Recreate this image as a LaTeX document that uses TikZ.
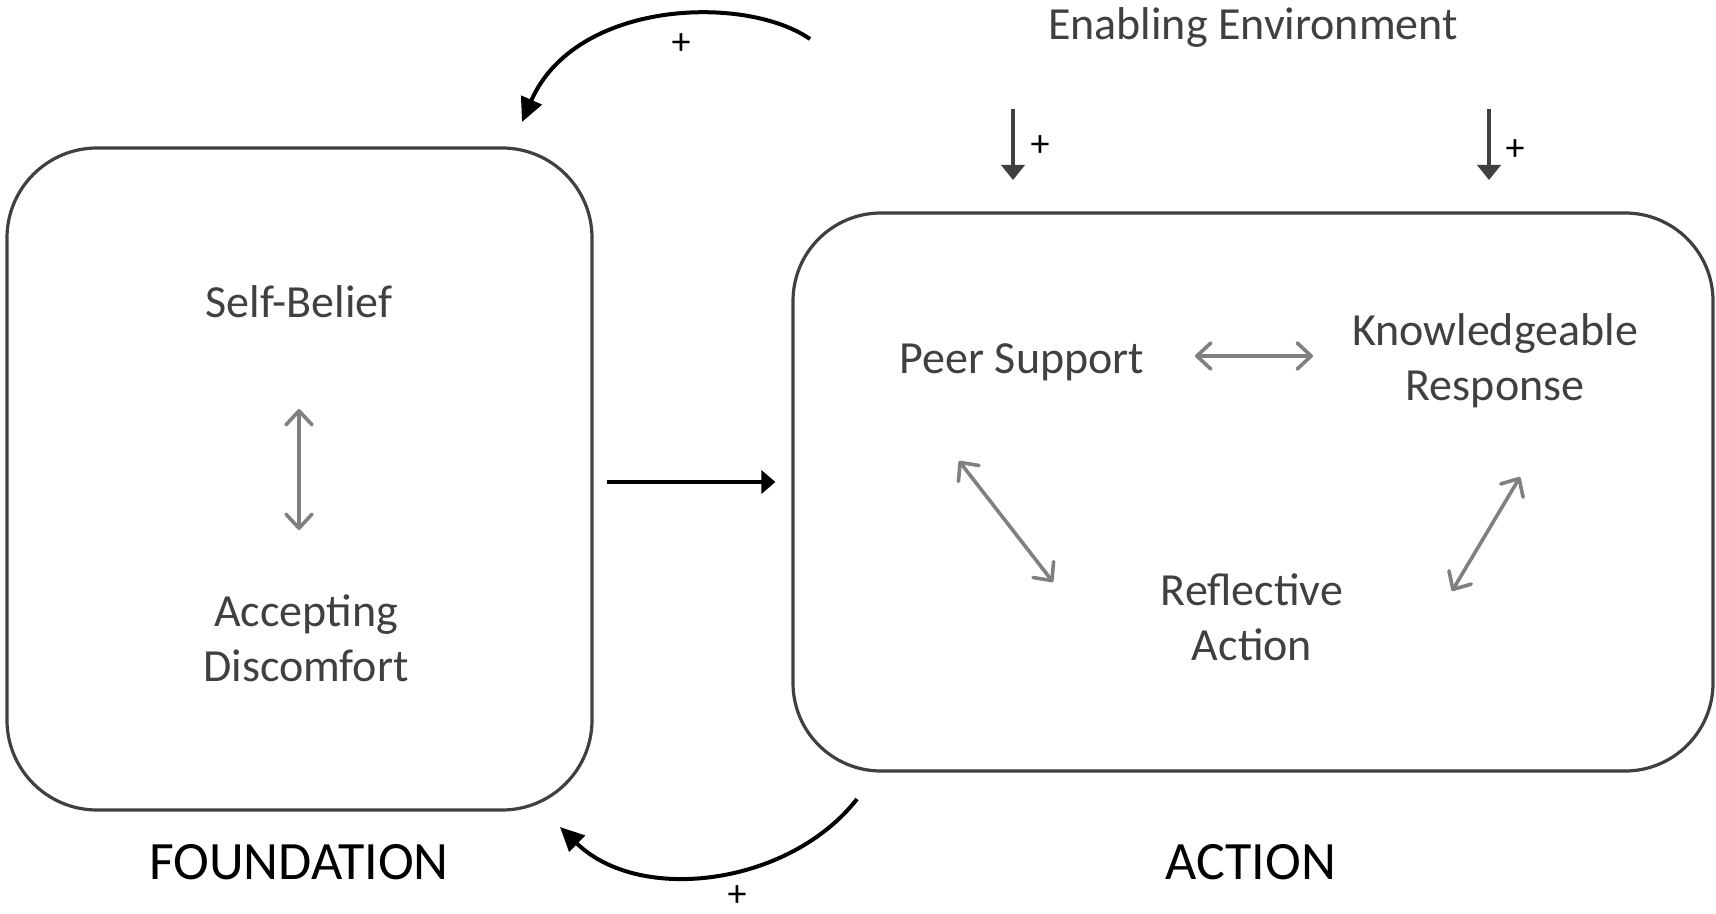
\documentclass[tikz,border=0pt]{standalone}
\usepackage{fontspec}
\setmainfont{Carlito}
\usetikzlibrary{arrows.meta}
\definecolor{dgray}{HTML}{404040}
\definecolor{mgray}{HTML}{808080}
\begin{document}
\begin{tikzpicture}[x=0.5pt,y=-0.5pt,
  box/.style={draw=dgray, line width=1.6pt, rounded corners=45pt, inner sep=0pt},
  lbl/.style={text=dgray, font=\fontsize{23}{27.5}\selectfont, align=center, inner sep=0pt},
  big/.style={text=black, font=\fontsize{27}{32}\selectfont, inner sep=0pt},
  plus/.style={text=black, font=\fontsize{19}{20}\selectfont, inner sep=0pt},
  twoway/.style={draw=mgray, line width=1.8pt, line cap=round,
    {Straight Barb[length=7pt,width=13pt,round]}-{Straight Barb[length=7pt,width=13pt,round]}},
  loop/.style={draw=black, line width=2pt, -{Triangle[length=12pt,width=11pt]}},
  fwd/.style={draw=black, line width=2.2pt, -{Triangle[length=7pt,width=11.5pt]}},
  downarr/.style={draw=dgray, line width=2pt, -{Triangle[length=7.5pt,width=11.5pt]}}]
\useasboundingbox (0,0) rectangle (1716,914);
\fill[white] (0,0) rectangle (1716,914);

% boxes
\node[box, minimum width=292.5pt, minimum height=331pt] (found) at (299.5,479) {};
\node[box, rounded corners=44pt, minimum width=460pt, minimum height=279pt] (action) at (1253,492) {};

% texts
\node[lbl] (env) at (1253,27) {Enabling Environment};
\node[lbl] (sb) at (299,302) {Self-Belief};
\node[lbl] (ad) at (306,638) {Accepting\\Discomfort};
\node[lbl] (ps) at (1022,362) {Peer Support};
\node[lbl] (kr) at (1495,361) {Knowledgeable\\Response};
\node[lbl] (ra) at (1252,617) {Reflective\\Action};
\node[big] (fl) at (299,862) {FOUNDATION};
\node[big] (al) at (1251,862) {ACTION};

% inner two-way arrows
\draw[twoway] (sb.south |- 0,409) -- (sb.south |- 0,530);
\coordinate (pk1) at (1195,356);
\coordinate (pk2) at (1313,356);
\draw[twoway] (pk1) -- (pk2);
\coordinate (pr1) at (959,461);
\coordinate (pr2) at (1053,582);
\draw[twoway] (pr1) -- (pr2);
\coordinate (rk1) at (1452,591);
\coordinate (rk2) at (1520,477);
\draw[twoway] (rk1) -- (rk2);

% foundation -> action
\coordinate (midy) at (700,482);
\draw[fwd, shorten <=6.5pt, shorten >=8pt] (found.east |- midy) -- (action.west |- midy);

% enabling environment arrows
\coordinate (d1s) at (1013,109);
\coordinate (d1e) at (1013,180);
\coordinate (d2s) at (1489,109);
\coordinate (d2e) at (1489,180);
\draw[downarr] (d1s) -- (d1e);
\draw[downarr] (d2s) -- (d2e);
\node[plus] (p1) at (1040,146) {+};
\node[plus] (p2) at (1515,150) {+};

% feedback loops
\coordinate (t1) at (810,39);
\coordinate (t2) at (522,122);
\draw[loop] (t1) .. controls (745,-6) and (575,0) .. (t2);
\node[plus] (p3) at (681,44) {+};
\coordinate (b1) at (857,799);
\coordinate (b2) at (560,827);
\draw[loop] (b1) .. controls (790,885) and (640,905) .. (b2);
\node[plus] (p4) at (737,896) {+};
\end{tikzpicture}
\end{document}
